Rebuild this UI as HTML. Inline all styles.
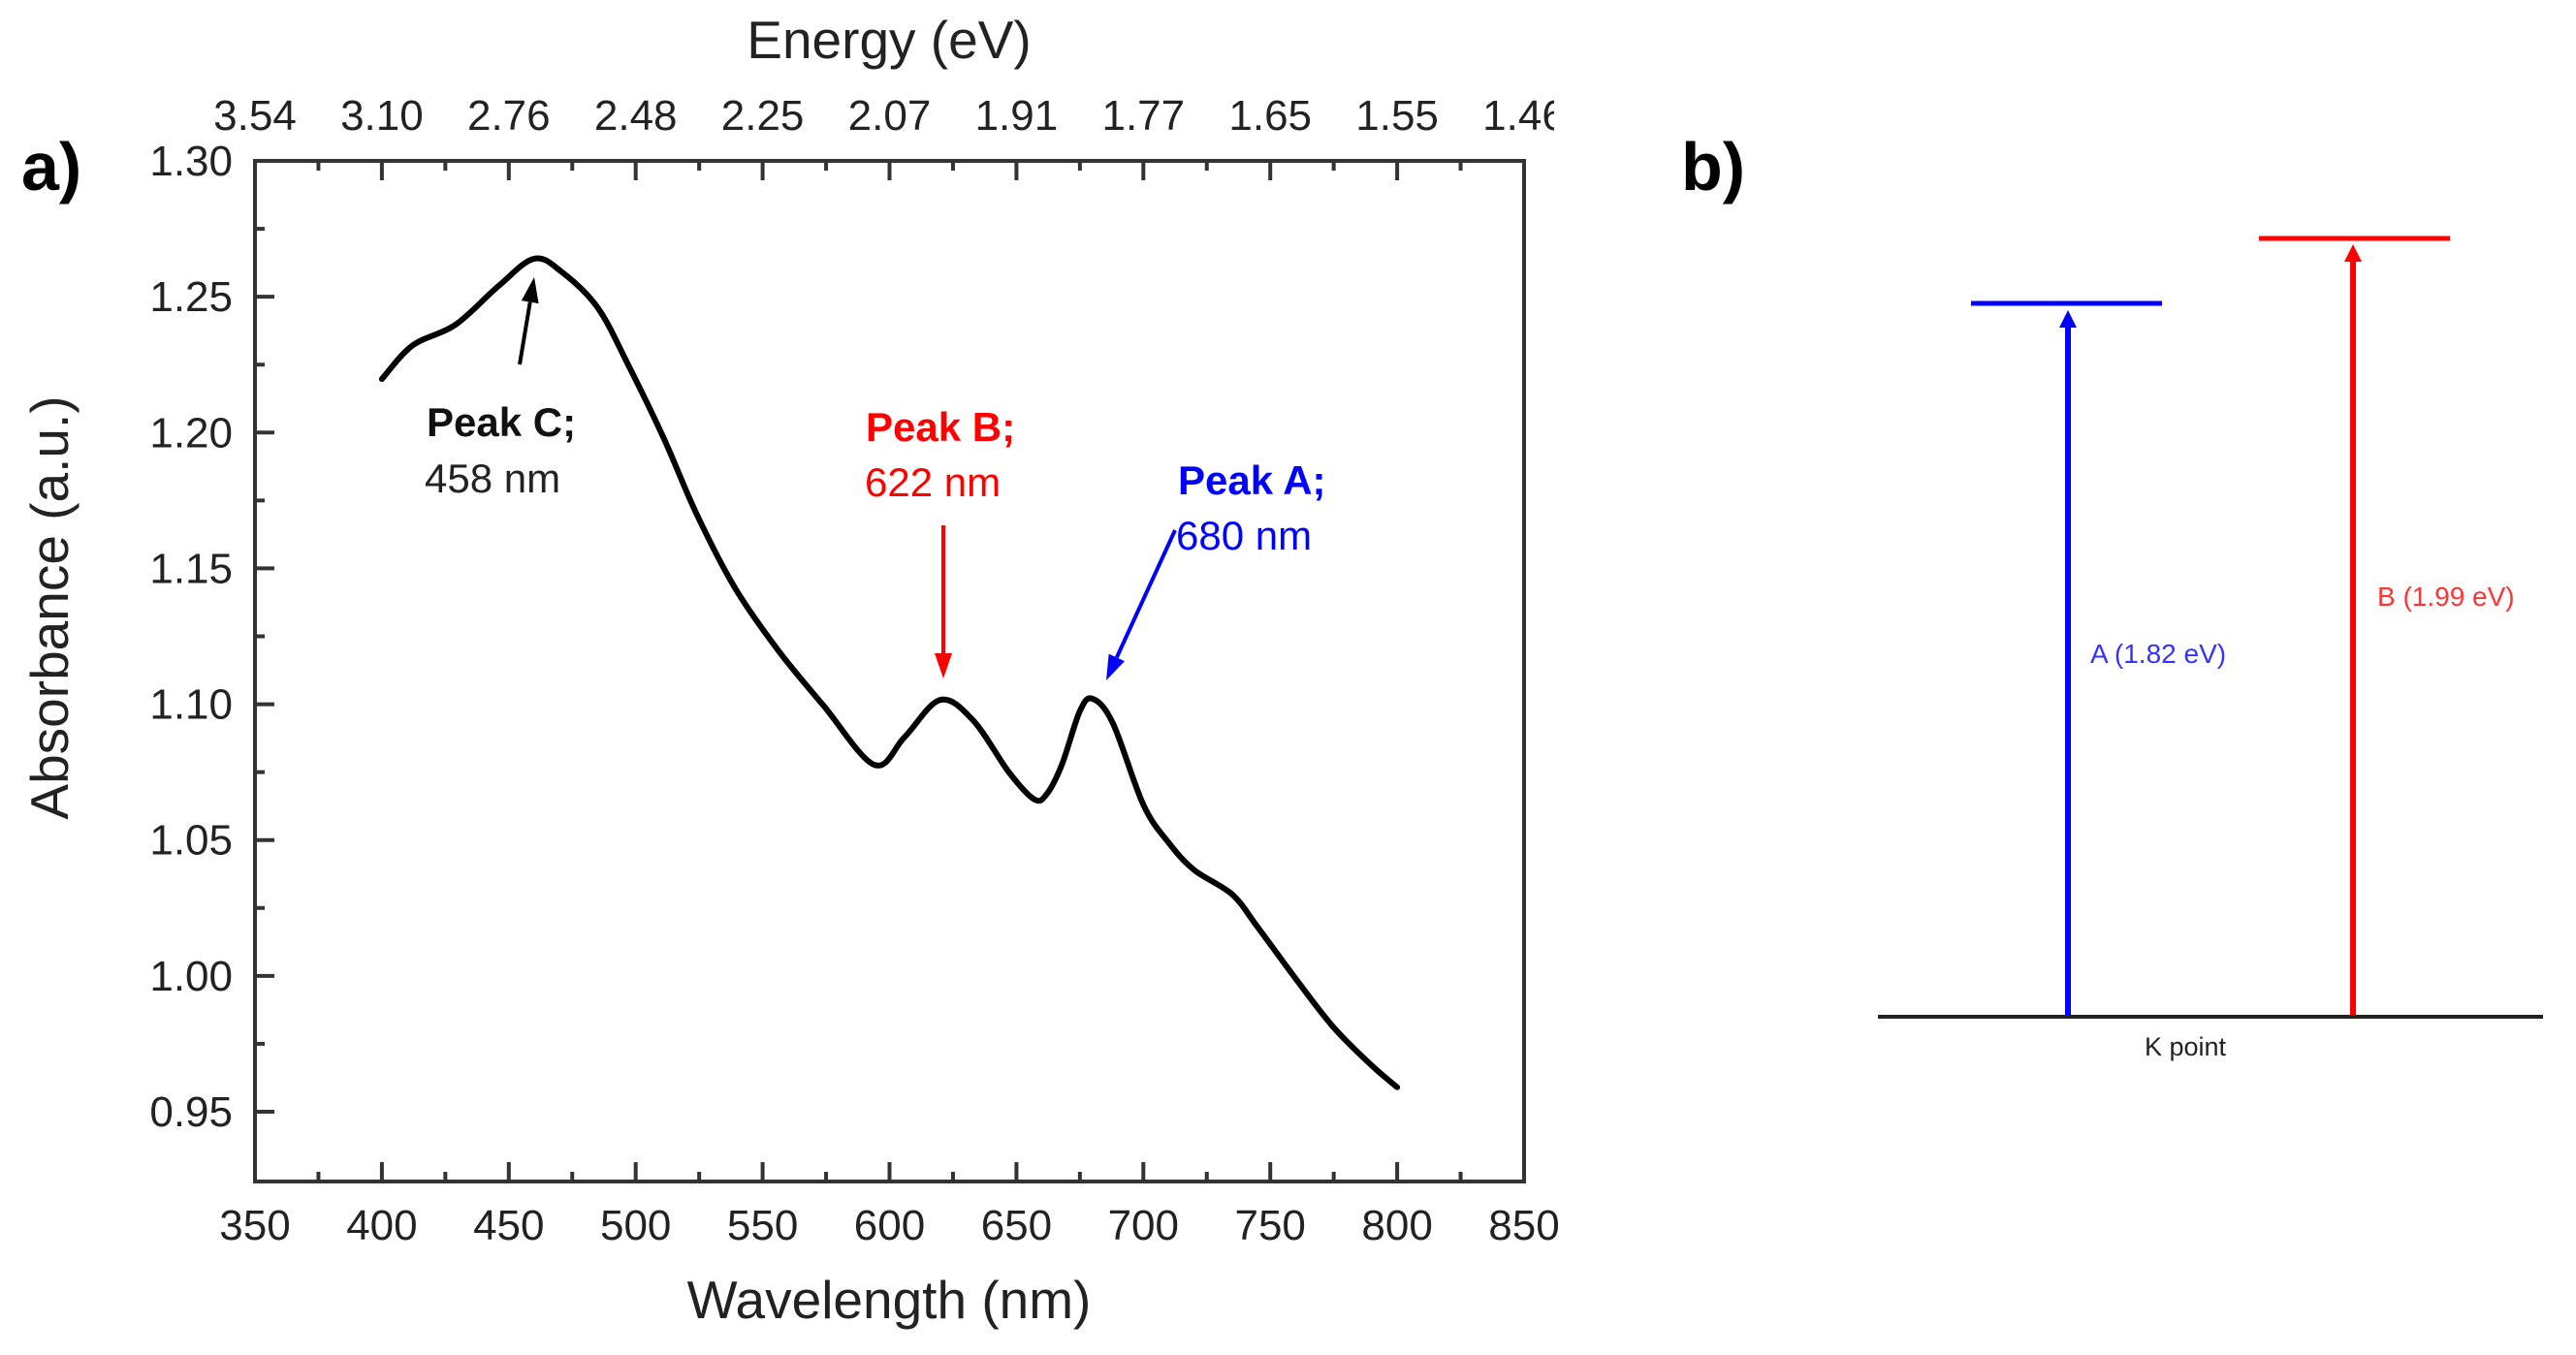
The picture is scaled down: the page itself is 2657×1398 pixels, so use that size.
<!DOCTYPE html>
<html><head><meta charset="utf-8"><style>
html,body{margin:0;padding:0;background:#fff;}
svg{display:block;}
text{font-family:"Liberation Sans",Arial,sans-serif;}
</style></head><body>
<svg id="fig" width="2657" height="1398" viewBox="0 0 2657 1398" xmlns="http://www.w3.org/2000/svg">
<rect x="0" y="0" width="2657" height="1398" fill="#fff"/>
<g id="plotA"></g>
<rect x="1603" y="0" width="1054" height="150" fill="#fff"/>
<text x="22" y="196" font-family="Liberation Serif,serif" font-weight="bold" font-size="70">a)</text>
<text x="1734" y="196" font-family="Liberation Serif,serif" font-weight="bold" font-size="70">b)</text>
<g>
<line x1="1937" y1="1049" x2="2623" y2="1049" stroke="#222" stroke-width="4"/>
<text x="2254" y="1089" font-family="DejaVu Sans,sans-serif" font-size="27" fill="#222" text-anchor="middle">K point</text>
<line x1="2033" y1="313" x2="2230" y2="313" stroke="#0000ff" stroke-width="5"/>
<line x1="2133" y1="1047" x2="2133" y2="336" stroke="#0000ff" stroke-width="6"/>
<polygon points="2133,320 2124,338 2142,338" fill="#0000ff"/>
<text x="2156" y="684" font-family="DejaVu Sans,sans-serif" font-size="28" fill="#3333ff">A (1.82 eV)</text>
<line x1="2330" y1="246" x2="2527" y2="246" stroke="#ff0000" stroke-width="5"/>
<line x1="2427" y1="1047" x2="2427" y2="268" stroke="#ff0000" stroke-width="6"/>
<polygon points="2427,252 2418,270 2436,270" fill="#ff0000"/>
<text x="2452" y="625" font-family="DejaVu Sans,sans-serif" font-size="28" fill="#ff3333">B (1.99 eV)</text>
</g>
</svg>
<script>
const wavelengths=[400,412,429,446,460,471,485,497,511,524,539,556,574,594,606,620,633,647,657,662,668,675,680,688,700,710,720,735,745,760,775,790,800];
const absorbance=[1.2197,1.232,1.2397,1.254,1.264,1.259,1.246,1.225,1.198,1.170,1.143,1.120,1.0995,1.0777,1.088,1.1016,1.094,1.075,1.065,1.067,1.078,1.0975,1.102,1.093,1.063,1.049,1.039,1.030,1.018,0.999,0.981,0.967,0.959];
const xTicks=[350,400,450,500,550,600,650,700,750,800,850];
const yTicks=[0.95,1.00,1.05,1.10,1.15,1.20,1.25,1.30];
const yTickLabels=["0.95","1.00","1.05","1.10","1.15","1.20","1.25","1.30"];
const energyLabels=["3.54","3.10","2.76","2.48","2.25","2.07","1.91","1.77","1.65","1.55","1.46"];

const NS="http://www.w3.org/2000/svg";
const L=263,R=1572,T=166,B=1219;
const xMin=350,xMax=850,yMin=0.95,yMax=1.30,y095=1147;
function X(v){return L+(v-xMin)/(xMax-xMin)*(R-L);}
function Y(v){return y095-(v-yMin)/(yMax-yMin)*(y095-T);}
const g=document.getElementById('plotA');
function mk(tag,attrs,parent){const e=document.createElementNS(NS,tag);for(const k in attrs)e.setAttribute(k,attrs[k]);(parent||g).appendChild(e);return e;}

const frame=mk('rect',{x:L,y:T,width:R-L,height:B-T,fill:'none',stroke:'#333','stroke-width':4});



for(let v=xMin;v<=xMax;v+=25){
  const major=(v%50===0);const len=major?20:10;
  const t=mk('line',{x1:X(v),x2:X(v),y1:B,y2:B-len,stroke:'#333','stroke-width':4});
  
  
  const t2=mk('line',{x1:X(v),x2:X(v),y1:T,y2:T+len,stroke:'#333','stroke-width':4});
  
  
}
xTicks.forEach((v,i)=>{
  const t=mk('text',{x:X(v),y:1279,'font-size':44,'text-anchor':'middle',fill:'#222'});t.textContent=v;
  
  
  const e=mk('text',{x:X(v),y:134,'font-size':44,'text-anchor':'middle',fill:'#222'});e.textContent=energyLabels[i];
  
  
});
for(let k=0;k<=16;k++){
  const v=0.925+k*0.025;const yy=Y(v);if(yy>B-2||yy<T-1)continue;
  const major=(k%2===1);const len=major?20:10;
  const t=mk('line',{x1:L,x2:L+len,y1:yy,y2:yy,stroke:'#333','stroke-width':4});
  
  
}
yTicks.forEach((v,i)=>{
  const t=mk('text',{x:240,y:Y(v)+15,'font-size':44,'text-anchor':'end',fill:'#222'});t.textContent=yTickLabels[i];
  
  
});
let tt=mk('text',{x:917,y:1360,'font-size':55,'text-anchor':'middle',fill:'#222'});tt.textContent='Wavelength (nm)';


tt=mk('text',{x:917,y:60,'font-size':55,'text-anchor':'middle',fill:'#222'});tt.textContent='Energy (eV)';


tt=mk('text',{x:70,y:627,'font-size':55,'text-anchor':'middle',fill:'#222',transform:'rotate(-90 70 627)'});tt.textContent='Absorbance (a.u.)';



const pts=wavelengths.map((w,i)=>[X(w),Y(absorbance[i])]);
let d='M'+pts[0][0]+','+pts[0][1];
for(let i=0;i<pts.length-1;i++){
  const p0=pts[i-1]||pts[i],p1=pts[i],p2=pts[i+1],p3=pts[i+2]||p2;
  const c1=[p1[0]+(p2[0]-p0[0])/6,p1[1]+(p2[1]-p0[1])/6];
  const c2=[p2[0]-(p3[0]-p1[0])/6,p2[1]-(p3[1]-p1[1])/6];
  d+=' C'+c1+' '+c2+' '+p2;
}
const curve=mk('path',{d:d,fill:'none',stroke:'#000','stroke-width':6,'stroke-linejoin':'round','stroke-linecap':'round'});



function arrow(x1,y1,x2,y2,col,name){
  const a=Math.atan2(y2-y1,x2-x1),h=26,w=9;
  const bx=x2-h*Math.cos(a),by=y2-h*Math.sin(a);
  const ln=mk('line',{x1:x1,y1:y1,x2:bx,y2:by,stroke:col,'stroke-width':4});
  
  
  const p=mk('polygon',{points:[x2,y2,bx+w*Math.sin(a),by-w*Math.cos(a),bx-w*Math.sin(a),by+w*Math.cos(a)].join(','),fill:col});
  
  
}
arrow(536,376,551,286,'#000','peak-c-arrow');
arrow(973,542,973,700,'#ff0000','peak-b-arrow');
arrow(1212,547,1141,702,'#0000ff','peak-a-arrow');
function label(x,y,txt,col,bold,name){
  const t=mk('text',{x:x,y:y,'font-size':42,fill:col,'font-weight':bold?'bold':'normal'});t.textContent=txt;
  
  
}
label(440,450,'Peak C;','#111',true,'peak-c-title');
label(438,508,'458 nm','#222',false,'peak-c-value');
label(893,455,'Peak B;','#ff0000',true,'peak-b-title');
label(892,512,'622 nm','#ff0000',false,'peak-b-value');
label(1215,510,'Peak A;','#0000ff',true,'peak-a-title');
label(1213,567,'680 nm','#0000ff',false,'peak-a-value');
</script>
</body></html>
